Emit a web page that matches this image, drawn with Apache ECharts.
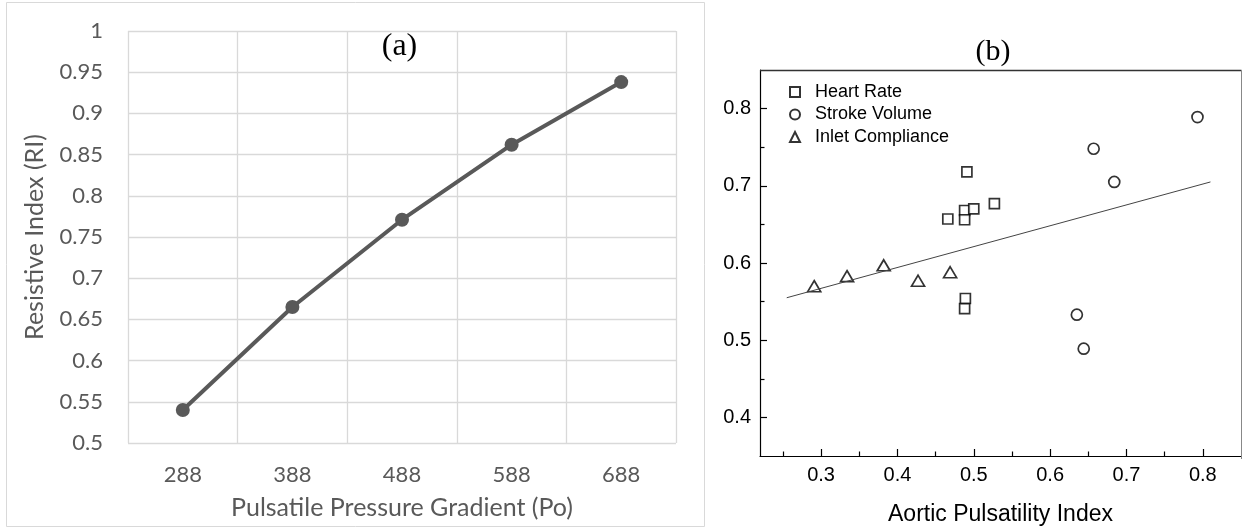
<!DOCTYPE html>
<html><head><meta charset="utf-8">
<script src="https://cdn.jsdelivr.net/npm/echarts@6/dist/echarts.min.js"></script>
<style>html,body{margin:0;padding:0;background:#fff}#c{width:1243px;height:531px}</style>
</head><body><div id="c"></div>
<script>
// ---- data ----
const pressureCats = ['288', '388', '488', '588', '688'];
const resistiveIndex = [0.54, 0.665, 0.771, 0.862, 0.938];
const heartRate = [[0.491, 0.718], [0.466, 0.657], [0.488, 0.668], [0.488, 0.656], [0.500, 0.670], [0.527, 0.677], [0.489, 0.554], [0.488, 0.541]];
const strokeVolume = [[0.793, 0.789], [0.657, 0.748], [0.684, 0.705], [0.635, 0.533], [0.644, 0.489]];
const inletCompliance = [[0.291, 0.570], [0.334, 0.583], [0.382, 0.597], [0.427, 0.577], [0.469, 0.588]];
const fitLine = [[0.255, 0.555], [0.81, 0.705]];
const xTicksB = [0.3, 0.4, 0.5, 0.6, 0.7, 0.8];
const xMinorB = [0.25, 0.35, 0.45, 0.55, 0.65, 0.75];
const yTicksB = [0.4, 0.5, 0.6, 0.7, 0.8];
const yMinorB = [0.45, 0.55, 0.65, 0.75];

const chart = echarts.init(document.getElementById('c'), null, {renderer: 'canvas'});
const grey = '#595959';
const fA = 'Lato';
const fB = 'Liberation Sans';
const openStyle = {color: '#fff', borderColor: '#000', borderWidth: 1.7};

chart.setOption({
  animation: false,
  backgroundColor: '#fff',
  grid: [
    {left: 128, top: 31, width: 548, height: 412, containLabel: false},
    {left: 760, top: 70, width: 481, height: 389, containLabel: false}
  ],
  graphic: [
    {type: 'rect', shape: {x: 6.5, y: 2.5, width: 698, height: 524}, style: {fill: 'none', stroke: '#d9d9d9', lineWidth: 1}, silent: true},
    {type: 'line', shape: {x1: 760, y1: 70.5, x2: 1241.5, y2: 70.5}, style: {stroke: '#333', lineWidth: 1.5}, silent: true, z: 10},
    {type: 'line', shape: {x1: 1241.5, y1: 70.5, x2: 1241.5, y2: 459}, style: {stroke: '#888', lineWidth: 1}, silent: true, z: 10},
    {type: 'text', style: {text: '(a)', x: 399.5, y: 47, textAlign: 'center', textVerticalAlign: 'middle', font: '32px "Liberation Serif"', fill: '#000'}},
    {type: 'text', style: {text: '(b)', x: 993, y: 52, textAlign: 'center', textVerticalAlign: 'middle', font: '30px "Liberation Serif"', fill: '#000'}}
  ],
  legend: {
    data: ['Heart Rate', 'Stroke Volume', 'Inlet Compliance'],
    orient: 'vertical', left: 784, top: 78,
    itemWidth: 10, itemHeight: 10, itemGap: 4.5,
    textStyle: {fontFamily: fB, fontSize: 18, color: '#000', padding: [0, 0, 0, 10], lineHeight: 18}
  },
  xAxis: [
    {
      type: 'category', gridIndex: 0, data: pressureCats, boundaryGap: true,
      axisLine: {show: false}, axisTick: {show: false},
      splitLine: {show: true, lineStyle: {color: '#d9d9d9', width: 1.3}},
      axisLabel: {color: grey, fontFamily: fA, fontSize: 22, margin: 21},
      name: 'Pulsatile Pressure Gradient (Po)', nameLocation: 'middle', nameGap: 52,
      nameTextStyle: {color: grey, fontFamily: fA, fontSize: 25}
    },
    {
      type: 'value', gridIndex: 1, min: 0.22, max: 0.85, position: 'bottom',
      axisLine: {show: true, onZero: false, lineStyle: {color: '#000', width: 1.2}},
      axisTick: {show: true, inside: true, length: 7, customValues: xTicksB, lineStyle: {color: '#000', width: 1.2}},
      axisLabel: {customValues: xTicksB, color: '#000', fontFamily: fB, fontSize: 20, margin: 9},
      splitLine: {show: false},
      name: 'Aortic Pulsatility Index', nameLocation: 'middle', nameGap: 47,
      nameTextStyle: {color: '#000', fontFamily: fB, fontSize: 23}
    },
    {
      type: 'value', gridIndex: 1, min: 0.22, max: 0.85, position: 'bottom',
      axisLine: {show: false, onZero: false},
      axisTick: {show: true, inside: true, length: 4.5, customValues: xMinorB, lineStyle: {color: '#000', width: 1.2}},
      axisLabel: {show: false, customValues: xMinorB},
      splitLine: {show: false}
    }
  ],
  yAxis: [
    {
      type: 'value', gridIndex: 0, min: 0.5, max: 1, interval: 0.05,
      axisLine: {show: false}, axisTick: {show: false},
      splitLine: {show: true, lineStyle: {color: '#d9d9d9', width: 1.3}},
      axisLabel: {color: grey, fontFamily: fA, fontSize: 22, margin: 25},
      name: 'Resistive Index (RI)', nameLocation: 'middle', nameGap: 81,
      nameTextStyle: {color: grey, fontFamily: fA, fontSize: 25}
    },
    {
      type: 'value', gridIndex: 1, min: 0.35, max: 0.85, position: 'left',
      axisLine: {show: true, onZero: false, lineStyle: {color: '#000', width: 1.2}},
      axisTick: {show: true, inside: true, length: 7, customValues: yTicksB, lineStyle: {color: '#000', width: 1.2}},
      axisLabel: {customValues: yTicksB, color: '#000', fontFamily: fB, fontSize: 20, margin: 9},
      splitLine: {show: false}
    },
    {
      type: 'value', gridIndex: 1, min: 0.35, max: 0.85, position: 'left',
      axisLine: {show: false, onZero: false},
      axisTick: {show: true, inside: true, length: 4.5, customValues: yMinorB, lineStyle: {color: '#000', width: 1.2}},
      axisLabel: {show: false, customValues: yMinorB},
      splitLine: {show: false}
    }
  ],
  series: [
    {
      type: 'line', xAxisIndex: 0, yAxisIndex: 0, data: resistiveIndex,
      symbol: 'circle', symbolSize: 14, showSymbol: true,
      lineStyle: {color: grey, width: 4}, itemStyle: {color: grey}
    },
    {
      type: 'line', xAxisIndex: 1, yAxisIndex: 1, data: fitLine,
      showSymbol: false, symbol: 'none', lineStyle: {color: '#444', width: 1}
    },
    {name: 'Heart Rate', type: 'scatter', xAxisIndex: 1, yAxisIndex: 1, data: heartRate, symbol: 'rect', symbolSize: 10, itemStyle: openStyle},
    {name: 'Stroke Volume', type: 'scatter', xAxisIndex: 1, yAxisIndex: 1, data: strokeVolume, symbol: 'circle', symbolSize: 11, itemStyle: openStyle},
    {name: 'Inlet Compliance', type: 'scatter', xAxisIndex: 1, yAxisIndex: 1, data: inletCompliance, symbol: 'triangle', symbolSize: [13, 11], itemStyle: openStyle}
  ]
});
</script>
</body></html>
